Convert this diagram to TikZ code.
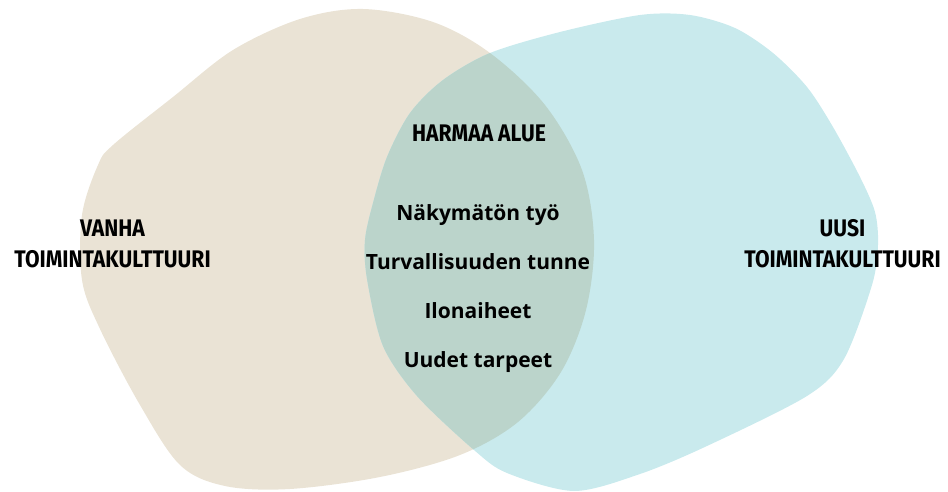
\documentclass[tikz,border=0pt]{standalone}
\usepackage{fontspec}
\setmainfont{Open Sans}
\newfontfamily\headfont{Fira Sans}
\usepackage{xcolor}
\usetikzlibrary{positioning}

\definecolor{oldbeige}{RGB}{234,227,213}
\definecolor{newcyan}{RGB}{201,234,237}
\definecolor{greyzone}{RGB}{187,212,203}
\newcommand{\squeeze}[1]{\scalebox{0.88}[1]{#1}}

\tikzset{
	headtext/.style={font=\headfont\bfseries\fontsize{24}{24}\selectfont,
		inner sep=0pt, text height=17pt, text depth=0pt, anchor=south},
	itemtext/.style={font=\bfseries\fontsize{21}{21}\selectfont,
		inner sep=0pt, anchor=base},
}

\begin{document}
\begin{tikzpicture}[x=1pt,y=-1pt]
		\def \oldblob {plot[smooth cycle,tension=0.55] coordinates {
			(363,9) (433,22) (490,53) (545,105) (582,170) (594,240)
			(586,310) (561,372) (518,422) (460,455) (380,477)
			(290,489) (225,486) (180,465) (140,405) (100,329)
			(82,280) (82,215) (98,165) (113,145) (173,97)
			(233,50) (300,19)}};
		\def \newblob {plot[smooth cycle,tension=0.5] coordinates {
			(490,53) (560,32) (640,15) (690,15) (735,28) (773,53) (807,87)
			(833,127) (860,177) (875,212) (878,245) (872,285) (844,359)
			(807,396) (707,446) (640,474) (574,491) (507,473) (474,450)
			(417,396) (383,346) (367,279) (365,240) (373,203) (387,157)
			(410,113) (443,80)}};
		\useasboundingbox (0,0) rectangle (948,492);
		\fill[oldbeige] \oldblob;
		\fill[newcyan] \newblob;
		\begin{scope}
			\clip \oldblob;
			\fill[greyzone] \newblob;
		\end{scope}
		% otsikot
		\node[headtext] (harmaa) at (479,141.5) {\squeeze{HARMAA ALUE}};
		\node[headtext] (vanha) at (112.5,237) {\squeeze{VANHA}};
		\node[headtext, below=13pt of vanha] (vanhaToim) {\squeeze{TOIMINTAKULTTUURI}};
		\node[headtext] (uusi) at (842.5,237) {\squeeze{UUSI}};
		\node[headtext, below=13pt of uusi] (uusiToim) {\squeeze{TOIMINTAKULTTUURI}};
		% harmaan alueen asiat
		\foreach \txt [count=\i] in {Näkymätön työ, Turvallisuuden tunne, Ilonaiheet, Uudet tarpeet}
		{
			\node[itemtext] (item\i) at (478,170.7+49.3*\i) {\txt};
		}
\end{tikzpicture}
\end{document}
